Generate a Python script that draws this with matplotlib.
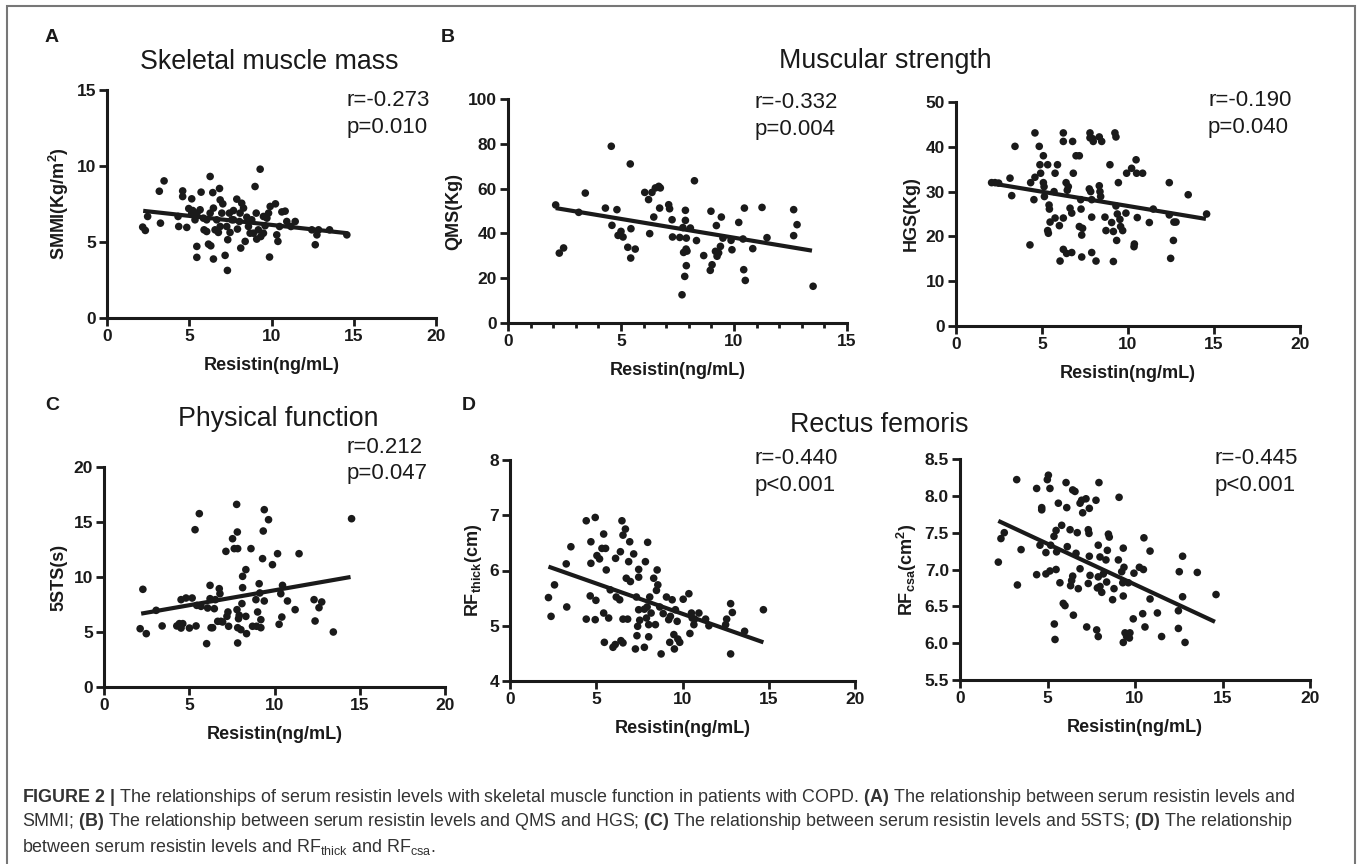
import matplotlib.pyplot as plt
from matplotlib.ticker import MultipleLocator

plt.rcParams["font.family"] = "Liberation Sans"
plt.rcParams["mathtext.fontset"] = "custom"
plt.rcParams["mathtext.rm"] = "Liberation Sans"
plt.rcParams["mathtext.bf"] = "Liberation Sans:bold"
plt.rcParams["mathtext.it"] = "Liberation Sans:italic"

W, H = 1358, 864
INK = "#1a1a1a"

# A: skeletal muscle mass index vs resistin
smmi_x = [2.17, 2.33, 2.47, 3.18, 3.25, 3.47, 4.32, 4.36, 4.6, 4.6, 4.85, 4.97, 5.15, 5.21,
          5.35, 5.46, 5.46, 5.47, 5.66, 5.72, 5.86, 5.9, 6.06, 6.17, 6.27, 6.31, 6.43, 6.47,
          6.47, 6.57, 6.77, 6.84, 6.88, 6.98, 7.04, 7.18, 7.28, 7.32, 7.34, 7.44, 7.48, 7.59,
          7.69, 7.89, 7.93, 8.05, 8.13, 8.19, 8.3, 8.4, 8.5, 8.7, 8.8, 9.0, 9.07, 9.1, 9.2,
          9.31, 9.35, 9.51, 9.61, 9.88, 9.92, 10.24, 10.32, 10.39, 10.49, 10.63, 10.83, 10.93,
          11.18, 11.44, 12.45, 12.66, 12.76, 12.86, 13.53, 14.58, 5.15, 6.06, 6.27, 6.67,
          6.88, 7.69, 8.09, 8.6, 8.9, 9.51, 9.72, 9.82]
smmi_y = [5.98, 5.76, 6.68, 8.34, 6.24, 9.02, 6.68, 6.02, 8.36, 7.99, 5.96, 7.2, 7.84, 7.07,
          6.46, 4.71, 3.99, 6.9, 7.12, 8.28, 6.57, 5.8, 5.69, 4.86, 9.31, 4.75, 8.25, 7.23,
          3.88, 5.8, 5.63, 8.52, 7.77, 6.9, 7.51, 4.12, 6.02, 3.13, 5.15, 6.9, 5.63, 6.46,
          7.07, 7.82, 5.85, 6.35, 4.6, 7.55, 7.23, 5.04, 6.63, 5.58, 6.46, 8.65, 6.9, 5.19, 5.8,
          9.79, 5.36, 6.68, 6.07, 4.01, 7.34, 7.51, 5.47, 5.04, 6.02, 6.98, 7.03, 6.35,
          6.02, 6.35, 5.8, 4.82, 5.47, 5.8, 5.8, 5.47, 6.9, 6.46, 6.9, 6.46,
          6.02, 6.46, 6.9, 6.02, 5.58, 5.58, 6.57, 6.9]
smmi_fit_x = [2.2, 14.6]
smmi_fit_y = [7.05, 5.58]

# B: quadriceps muscle strength vs resistin
qms_x = [2.11, 2.27, 2.46, 3.13, 3.42, 4.31, 4.57, 4.6, 4.82, 4.87, 5.0, 5.09, 5.3, 5.41,
         5.44, 5.43, 5.63, 6.05, 6.22, 6.27, 6.37, 6.45, 6.52, 6.67, 6.71, 6.74, 7.11, 7.15,
         7.26, 7.28, 7.6, 7.7, 7.74, 7.77, 7.82, 7.85, 7.85, 7.88, 7.89, 7.89, 7.92, 8.07,
         8.25, 8.34, 8.66, 8.95, 8.98, 9.03, 9.18, 9.22, 9.25, 9.32, 9.4, 9.44, 9.51, 9.87,
         9.91, 10.21, 10.4, 10.43, 10.46, 10.5, 10.83, 11.24, 11.46, 12.64, 12.64, 12.79, 13.5]
qms_y = [52.7, 31.2, 33.5, 49.4, 58.0, 51.3, 78.9, 43.6, 50.6, 39.1, 40.9, 38.4, 33.8, 71.0,
         42.1, 29.0, 33.0, 58.3, 55.1, 39.9, 58.3, 47.3, 60.3, 61.0, 51.3, 60.3, 52.8, 51.0,
         46.1, 38.4, 38.2, 12.6, 42.6, 31.5, 20.8, 50.3, 45.8, 33.0, 37.9, 25.6, 32.1, 42.4,
         63.5, 36.8, 30.1, 23.5, 49.9, 26.0, 32.0, 43.5, 29.8, 31.3, 34.2, 47.3, 37.9, 36.9,
         32.7, 44.9, 37.5, 23.8, 51.3, 19.0, 33.2, 51.6, 38.1, 50.6, 39.0, 43.9, 16.4]
qms_fit_x = [2.11, 13.45]
qms_fit_y = [51.3, 32.3]

# B: hand grip strength vs resistin
hgs_x = [2.07, 2.27, 2.48, 3.14, 3.24, 3.43, 4.3, 4.34, 4.53, 4.59, 4.59, 4.84, 4.88, 4.92,
         5.08, 5.08, 5.12, 5.14, 5.33, 5.33, 5.37, 5.41, 5.43, 5.47, 5.7, 5.76, 5.76, 5.9,
         6.01, 6.05, 6.24, 6.24, 6.24, 6.24, 6.4, 6.43, 6.47, 6.53, 6.63, 6.73, 6.73, 6.78,
         6.82, 6.98, 7.17, 7.17, 7.25, 7.27, 7.31, 7.36, 7.31, 7.75, 7.79, 7.79, 7.83, 7.89,
         7.89, 7.89, 7.95, 7.98, 8.14, 8.33, 8.33, 8.37, 8.41, 8.47, 8.66, 8.72, 8.95, 9.15,
         9.24, 9.3, 9.3, 9.05, 9.15, 9.34, 9.38, 9.44, 9.53, 9.57, 9.69, 9.88, 9.92, 10.21,
         10.35, 10.37, 10.47, 10.5, 10.54, 10.85, 11.24, 11.47, 12.4, 12.4, 12.48, 12.64,
         12.67, 12.79, 13.5, 14.57]
hgs_y = [32.0, 32.0, 31.9, 33.0, 29.1, 40.1, 18.1, 32.0, 28.2, 43.1, 33.2, 40.1, 36.0, 34.1,
         38.0, 32.0, 31.1, 28.9, 36.0, 21.3, 20.7, 27.0, 26.1, 23.2, 30.0, 34.1, 24.1, 36.0,
         22.4, 14.5, 43.1, 41.2, 24.1, 17.1, 32.0, 16.2, 30.3, 31.1, 26.3, 25.2, 16.4, 41.2,
         34.1, 38.0, 38.0, 22.2, 28.2, 26.1, 20.3, 21.8, 15.4, 30.6, 43.1, 42.0, 30.0, 24.3,
         16.4, 28.2, 41.8, 41.2, 14.5, 42.2, 31.3, 30.0, 28.9, 41.2, 24.3, 21.3, 36.0, 14.4,
         43.1, 42.2, 26.8, 23.1, 21.1, 19.1, 25.0, 32.0, 23.8, 22.2, 21.3, 25.2, 34.1, 35.2,
         17.7, 18.3, 37.1, 34.1, 24.2, 34.1, 23.1, 26.1, 32.0, 24.8, 15.1, 19.1,
         23.2, 23.2, 29.3, 25.0]
hgs_fit_x = [1.98, 14.53]
hgs_fit_y = [31.9, 23.9]

# C: five-repetition sit-to-stand time vs resistin
sts_x = [2.12, 2.28, 2.48, 3.06, 3.41, 4.27, 4.42, 4.52, 4.52, 4.62, 4.81, 5.01, 5.17, 5.34,
         5.4, 5.44, 5.59, 5.69, 6.02, 6.08, 6.22, 6.22, 6.28, 6.37, 6.47, 6.53, 6.67, 6.76,
         6.8, 6.86, 6.96, 7.15, 7.21, 7.27, 7.31, 7.54, 7.64, 7.78, 7.8, 7.82, 7.84, 7.84,
         7.84, 7.89, 7.93, 8.03, 8.09, 8.13, 8.13, 8.32, 8.32, 8.36, 8.62, 8.71, 8.91, 8.95,
         9.01, 9.1, 9.14, 9.2, 9.2, 9.3, 9.34, 9.4, 9.4, 9.65, 9.88, 10.18, 10.27, 10.37,
         10.43, 10.47, 10.76, 11.21, 11.44, 12.32, 12.38, 12.61, 12.77, 13.45, 14.52]
sts_y = [5.3, 8.88, 4.85, 6.97, 5.55, 5.55, 5.76, 7.94, 5.36, 5.76, 8.09, 5.36, 8.09, 14.3,
         5.55, 7.42, 15.76, 7.33, 3.94, 7.18, 9.24, 8.03, 5.39, 5.39, 7.12, 7.94, 5.97, 8.94,
         8.48, 5.97, 5.91, 12.33, 6.42, 6.82, 5.52, 13.48, 12.58, 16.6, 7.03, 14.09, 12.58, 4.0,
         5.39, 6.21, 6.52, 5.21, 7.58, 9.03, 10.06, 10.67, 6.42, 4.85, 12.58, 5.52, 7.94, 5.52,
         6.82, 9.39, 8.55, 6.12, 5.39, 11.67, 14.18, 16.12, 7.82, 15.21, 11.12, 12.12, 5.7, 8.48,
         6.36, 9.24, 7.82, 7.03, 12.12, 7.94, 6.0, 7.21, 7.73, 5.0, 15.3]
sts_fit_x = [2.18, 14.46]
sts_fit_y = [6.67, 10.0]

# D: rectus femoris thickness vs resistin
thick_x = [2.23, 2.38, 2.58, 3.26, 3.29, 3.53, 4.42, 4.42, 4.65, 4.69, 4.69, 4.94, 4.94, 4.98,
           5.04, 5.19, 5.33, 5.43, 5.43, 5.47, 5.54, 5.58, 5.72, 5.81, 5.97, 6.1, 6.12, 6.16,
           6.36, 6.4, 6.43, 6.49, 6.55, 6.55, 6.55, 6.69, 6.74, 6.82, 6.88, 6.94, 6.98, 7.17,
           7.27, 7.33, 7.36, 7.4, 7.46, 7.46, 7.46, 7.52, 7.79, 7.79, 7.85, 7.91, 7.95, 7.98,
           8.04, 8.04, 8.1, 8.18, 8.33, 8.43, 8.49, 8.53, 8.57, 8.68, 8.76, 8.88, 9.07, 9.2,
           9.26, 9.3, 9.4, 9.5, 9.53, 9.59, 9.69, 9.73, 9.84, 10.04, 10.37, 10.43, 10.52, 10.56,
           10.66, 10.7, 10.95, 11.34, 11.53, 12.5, 12.56, 12.79, 12.79, 12.89, 13.6, 14.69]
thick_y = [5.51, 5.17, 5.74, 6.12, 5.34, 6.43, 6.9, 5.12, 5.54, 6.52, 6.13, 6.96, 5.11, 5.46,
           6.27, 6.21, 6.4, 6.66, 5.23, 4.7, 6.4, 6.01, 5.14, 5.65, 4.61, 4.66, 6.22, 5.52,
           5.47, 6.34, 4.73, 6.9, 6.64, 4.69, 5.12, 6.75, 5.86, 5.12, 6.16, 6.52, 5.8, 6.3,
           4.58, 5.52, 4.82, 4.99, 5.88, 5.29, 6.02, 5.1, 4.61, 5.3, 6.16, 5.14, 5.34, 6.51,
           4.8, 5.02, 5.52, 5.23, 5.86, 5.02, 5.64, 6.01, 5.74, 5.34, 4.49, 5.22, 5.52, 5.11,
           4.7, 5.17, 5.47, 4.84, 4.58, 5.29, 5.08, 4.76, 4.7, 5.48, 5.58, 4.86, 5.23, 5.14,
           5.02, 5.12, 5.23, 5.12, 5.0, 5.02, 5.12, 5.4, 4.49, 5.24, 4.9, 5.29]
thick_fit_x = [2.23, 14.69]
thick_fit_y = [6.07, 4.7]

# D: rectus femoris cross-sectional area vs resistin
csa_x = [2.19, 2.34, 2.53, 3.24, 3.28, 3.49, 4.38, 4.38, 4.57, 4.67, 4.67, 4.91, 4.91, 4.99,
         5.05, 5.14, 5.18, 5.14, 5.37, 5.39, 5.43, 5.49, 5.49, 5.52, 5.62, 5.71, 5.81, 5.9,
         6.0, 6.06, 6.1, 6.13, 6.29, 6.32, 6.38, 6.44, 6.44, 6.48, 6.57, 6.63, 6.7, 6.76,
         6.86, 6.86, 6.95, 7.01, 7.2, 7.24, 7.33, 7.33, 7.37, 7.39, 7.39, 7.43, 7.77, 7.81,
         7.85, 7.9, 7.9, 7.9, 7.94, 8.0, 8.0, 8.1, 8.19, 8.34, 8.38, 8.42, 8.48, 8.53, 8.72,
         8.8, 9.05, 9.09, 9.24, 9.3, 9.33, 9.33, 9.33, 9.37, 9.43, 9.52, 9.62, 9.68, 9.71,
         9.9, 9.94, 10.25, 10.44, 10.48, 10.51, 10.57, 10.86, 10.86, 11.28, 11.52, 12.48,
         12.48, 12.53, 12.72, 12.72, 12.86, 13.56, 14.63]
csa_y = [7.1, 7.42, 7.5, 8.22, 6.79, 7.27, 8.1, 6.93, 7.33, 7.84, 7.81, 7.23, 6.94, 8.22,
         8.28, 8.1, 7.33, 6.98, 7.45, 6.26, 6.05, 7.0, 7.53, 7.24, 7.9, 6.82, 7.6, 6.54,
         6.51, 8.18, 7.84, 7.31, 7.54, 6.78, 6.85, 6.91, 8.08, 6.38, 8.06, 7.22, 7.5, 6.74,
         7.01, 7.9, 7.94, 7.77, 7.96, 6.22, 6.81, 7.54, 7.49, 7.83, 7.18, 6.92, 7.94, 6.18,
         6.75, 7.33, 6.9, 6.09, 8.18, 7.17, 6.77, 6.69, 6.94, 7.13, 6.83, 7.26, 7.48, 7.44, 6.59,
         6.74, 7.13, 7.98, 6.97, 6.82, 7.29, 6.01, 6.64, 7.03, 6.14, 6.09, 6.82, 6.07, 6.14,
         6.33, 6.95, 7.03, 6.4, 7.0, 7.43, 6.22, 6.6, 7.25, 6.41, 6.09, 6.2,
         6.44, 6.97, 7.18, 6.63, 6.01, 6.96, 6.66]
csa_fit_x = [2.19, 14.57]
csa_fit_y = [7.66, 6.29]

caption = [
    r"$\bf{FIGURE\ 2\ |}$ The relationships of serum resistin levels with skeletal muscle "
    r"function in patients with COPD. $\bf{(A)}$ The relationship between serum resistin levels and",
    r"SMMI; $\bf{(B)}$ The relationship between serum resistin levels and QMS and HGS; "
    r"$\bf{(C)}$ The relationship between serum resistin levels and 5STS; $\bf{(D)}$ The relationship",
    r"between serum resistin levels and RF$_{\rm thick}$ and RF$_{\rm csa}$.",
]


def fx(x):
    return x / W


def fy(y):
    return 1 - y / H


def scatter_panel(fig, box, x, y, fit_x, fit_y, xticks, yticks, ylabel,
                  yfmt="{:g}", xminor=False):
    left, right, top, bottom = box
    ax = fig.add_axes([fx(left), fy(bottom), (right - left) / W, (bottom - top) / H])
    ax.scatter(x, y, s=30, color=INK, edgecolors="none", clip_on=False, zorder=3)
    ax.plot(fit_x, fit_y, color=INK, lw=3, solid_capstyle="butt", zorder=4)
    ax.set_xlim(xticks[0], xticks[-1])
    ax.set_ylim(yticks[0], yticks[-1])
    ax.set_xticks(xticks)
    ax.set_xticklabels([str(t) for t in xticks], fontweight="bold")
    ax.set_yticks(yticks)
    ax.set_yticklabels([yfmt.format(t) for t in yticks], fontweight="bold")
    if xminor:
        ax.xaxis.set_minor_locator(MultipleLocator(1))
    for s in ["top", "right"]:
        ax.spines[s].set_visible(False)
    for s in ["left", "bottom"]:
        ax.spines[s].set_linewidth(2.2)
        ax.spines[s].set_color(INK)
        ax.spines[s].set_capstyle("projecting")
    ax.tick_params(which="major", direction="out", length=5.5, width=2, color=INK,
                   labelsize=12.5, pad=2.5, labelcolor=INK)
    ax.tick_params(which="minor", direction="out", length=3.5, width=2, color=INK)
    ax.set_xlabel("Resistin(ng/mL)", fontsize=13, fontweight="bold", labelpad=9, color=INK)
    ax.set_ylabel(ylabel, fontsize=13, fontweight="bold", labelpad=4, color=INK)
    return ax


fig = plt.figure(figsize=(W / 100, H / 100), dpi=100)

scatter_panel(fig, (107, 436, 90, 318), smmi_x, smmi_y, smmi_fit_x, smmi_fit_y,
              [0, 5, 10, 15, 20], [0, 5, 10, 15], r"SMMI(Kg/m$^\mathbf{2}$)")
scatter_panel(fig, (508, 847, 99, 323), qms_x, qms_y, qms_fit_x, qms_fit_y,
              [0, 5, 10, 15], [0, 20, 40, 60, 80, 100], "QMS(Kg)", xminor=True)
scatter_panel(fig, (956, 1300, 102, 326), hgs_x, hgs_y, hgs_fit_x, hgs_fit_y,
              [0, 5, 10, 15, 20], [0, 10, 20, 30, 40, 50], "HGS(Kg)")
scatter_panel(fig, (104, 445, 467, 687), sts_x, sts_y, sts_fit_x, sts_fit_y,
              [0, 5, 10, 15, 20], [0, 5, 10, 15, 20], "5STS(s)")
scatter_panel(fig, (510, 855, 460, 681), thick_x, thick_y, thick_fit_x, thick_fit_y,
              [0, 5, 10, 15, 20], [4, 5, 6, 7, 8], r"RF$_\mathbf{thick}$(cm)")
scatter_panel(fig, (960, 1310, 459, 680), csa_x, csa_y, csa_fit_x, csa_fit_y,
              [0, 5, 10, 15, 20], [5.5, 6.0, 6.5, 7.0, 7.5, 8.0, 8.5],
              r"RF$_\mathbf{csa}$(cm$^\mathbf{2}$)", yfmt="{:.1f}")

# panel letters and titles
for letter, x, y in [("A", 52, 38), ("B", 448, 38), ("C", 52, 405), ("D", 469, 405)]:
    fig.text(fx(x), fy(y), letter, fontsize=14, fontweight="bold", color=INK,
             ha="center", va="center")
for title, x, y in [("Skeletal muscle mass", 269, 62), ("Muscular strength", 885, 61),
                    ("Physical function", 278, 419), ("Rectus femoris", 879, 425)]:
    fig.text(fx(x), fy(y), title, fontsize=19.3, color=INK, ha="center", va="center")

# correlation statistics
stats = [("r=-0.273", "p=0.010", 347, 101), ("r=-0.332", "p=0.004", 755, 103),
         ("r=-0.190", "p=0.040", 1208, 101), ("r=0.212", "p=0.047", 347, 447),
         ("r=-0.440", "p<0.001", 755, 459), ("r=-0.445", "p<0.001", 1215, 459)]
for r_txt, p_txt, x, y in stats:
    fig.text(fx(x), fy(y), r_txt, fontsize=16, color=INK, ha="left", va="center")
    fig.text(fx(x), fy(y + 26), p_txt, fontsize=16, color=INK, ha="left", va="center")

# caption
for i, line in enumerate(caption):
    fig.text(fx(22), fy(797 + 25 * i), line, fontsize=12.9, color="#333333",
             ha="left", va="center")

# outer frame
frame = plt.Rectangle((fx(7), -0.02), fx(1355) - fx(7), fy(6) + 0.02,
                      transform=fig.transFigure, fill=False, edgecolor="#777777", lw=1.5)
fig.add_artist(frame)

fig.savefig("out.png", dpi=100)
